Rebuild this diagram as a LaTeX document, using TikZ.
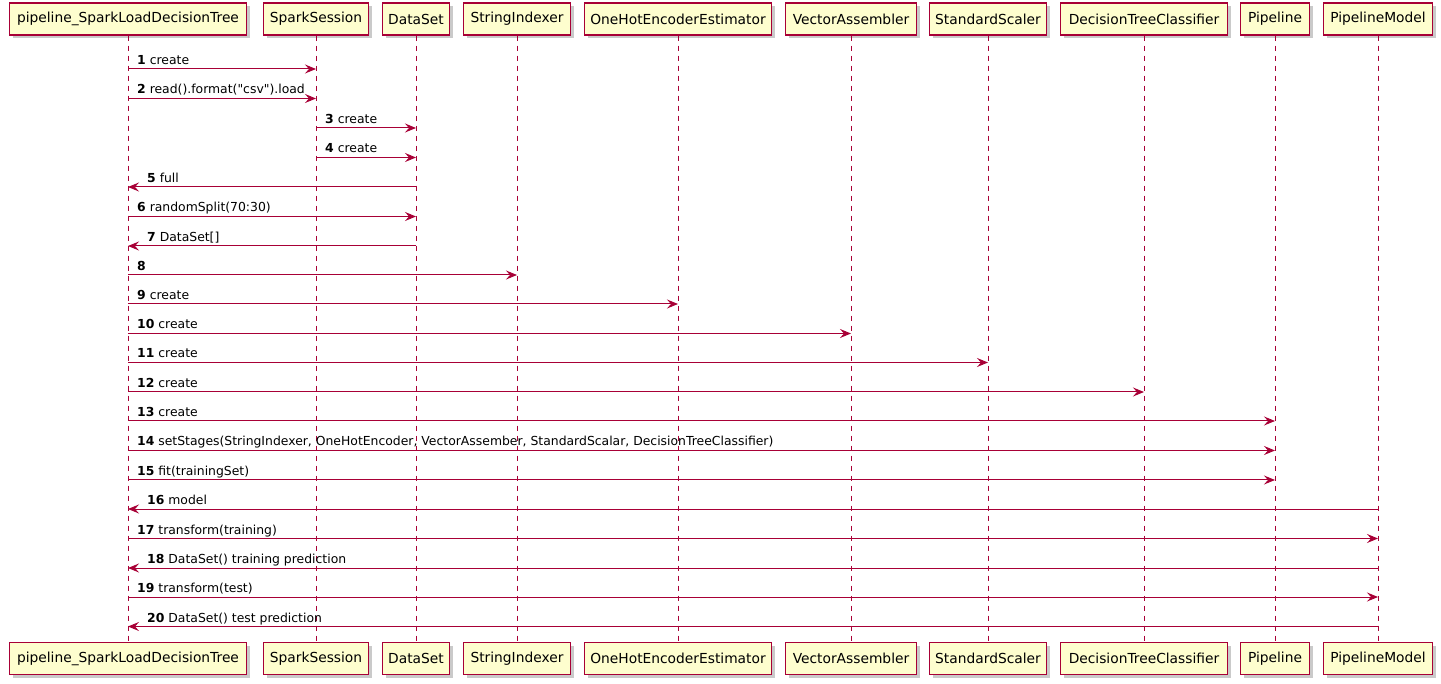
\documentclass[tikz,border=0pt]{standalone}
\usepackage{fontspec}
\setmainfont{DejaVu Sans}[Ligatures=TeXOff]
\usetikzlibrary{arrows.meta,shadows,calc}
\definecolor{umlred}{HTML}{A80036}
\definecolor{umlfill}{HTML}{FEFECE}
\tikzset{
  part/.style={draw=umlred, fill=umlfill, line width=1.2pt, minimum height=32pt,
    inner sep=0pt, font=\fontsize{13.8}{16}\selectfont,
    drop shadow={shadow xshift=3pt, shadow yshift=-3pt, opacity=0.35, fill=black!60}},
  life/.style={draw=umlred, line width=0.9pt, dash pattern=on 5pt off 5pt},
  msgline/.style={draw=umlred, line width=1pt, -{Stealth[length=11pt,width=9pt,inset=4pt]}},
  msglabel/.style={font=\fontsize{12.4}{14}\selectfont, inner sep=0pt, anchor=base west},
}
% #1 from, #2 to, #3 y, #4 number, #5 text, #6 label anchor participant, #7 x offset
\newcommand\seqmsg[7]{%
  \draw[msgline] (#1T |- 0,#3) -- (#2T |- 0,#3);
  \node[msglabel] at ($(#6T |- 0,#3)+(#7,-4.5)$) {\textbf{#4} #5};
}
\newcommand\seqR[5]{\seqmsg{#1}{#2}{#3}{#4}{#5}{#1}{9}}
\newcommand\seqL[5]{\seqmsg{#1}{#2}{#3}{#4}{#5}{#2}{19}}
\begin{document}
\begin{tikzpicture}[x=1pt,y=-1pt]
\useasboundingbox (0,0) rectangle (1441,684);
\foreach \n/\x/\w/\t in {main/128/237/pipeline\_SparkLoadDecisionTree,
  spark/316/105/SparkSession, ds/416/67/DataSet, si/517/107/StringIndexer,
  ohe/678/187/OneHotEncoderEstimator, va/851/131/VectorAssembler,
  ss/988/117/StandardScaler, dtc/1144/167/DecisionTreeClassifier,
  pl/1275/69/Pipeline, pm/1378/109/PipelineModel}{
  \node[part, minimum width=\w pt] (\n T) at (\x,19) {\t};
  \node[part, minimum width=\w pt] (\n B) at (\x,658.5) {\t};
  \draw[life] (\n T.south) -- (\n B.north);
}
\seqR{main}{spark}{69}{1}{create}
\seqR{main}{spark}{98.5}{2}{read().format("csv").load}
\seqR{spark}{ds}{128}{3}{create}
\seqR{spark}{ds}{157.5}{4}{create}
\seqL{ds}{main}{187}{5}{full}
\seqR{main}{ds}{216.5}{6}{randomSplit(70:30)}
\seqL{ds}{main}{246}{7}{DataSet[]}
\seqR{main}{si}{275}{8}{}
\seqR{main}{ohe}{304}{9}{create}
\seqR{main}{va}{333.5}{10}{create}
\seqR{main}{ss}{362.5}{11}{create}
\seqR{main}{dtc}{392}{12}{create}
\seqR{main}{pl}{421}{13}{create}
\seqR{main}{pl}{450.5}{14}{setStages(StringIndexer, OneHotEncoder, VectorAssember, StandardScalar, DecisionTreeClassifier)}
\seqR{main}{pl}{480}{15}{fit(trainingSet)}
\seqL{pm}{main}{509}{16}{model}
\seqR{main}{pm}{538.5}{17}{transform(training)}
\seqL{pm}{main}{568}{18}{DataSet() training prediction}
\seqR{main}{pm}{597}{19}{transform(test)}
\seqL{pm}{main}{626.5}{20}{DataSet() test prediction}
\end{tikzpicture}
\end{document}
